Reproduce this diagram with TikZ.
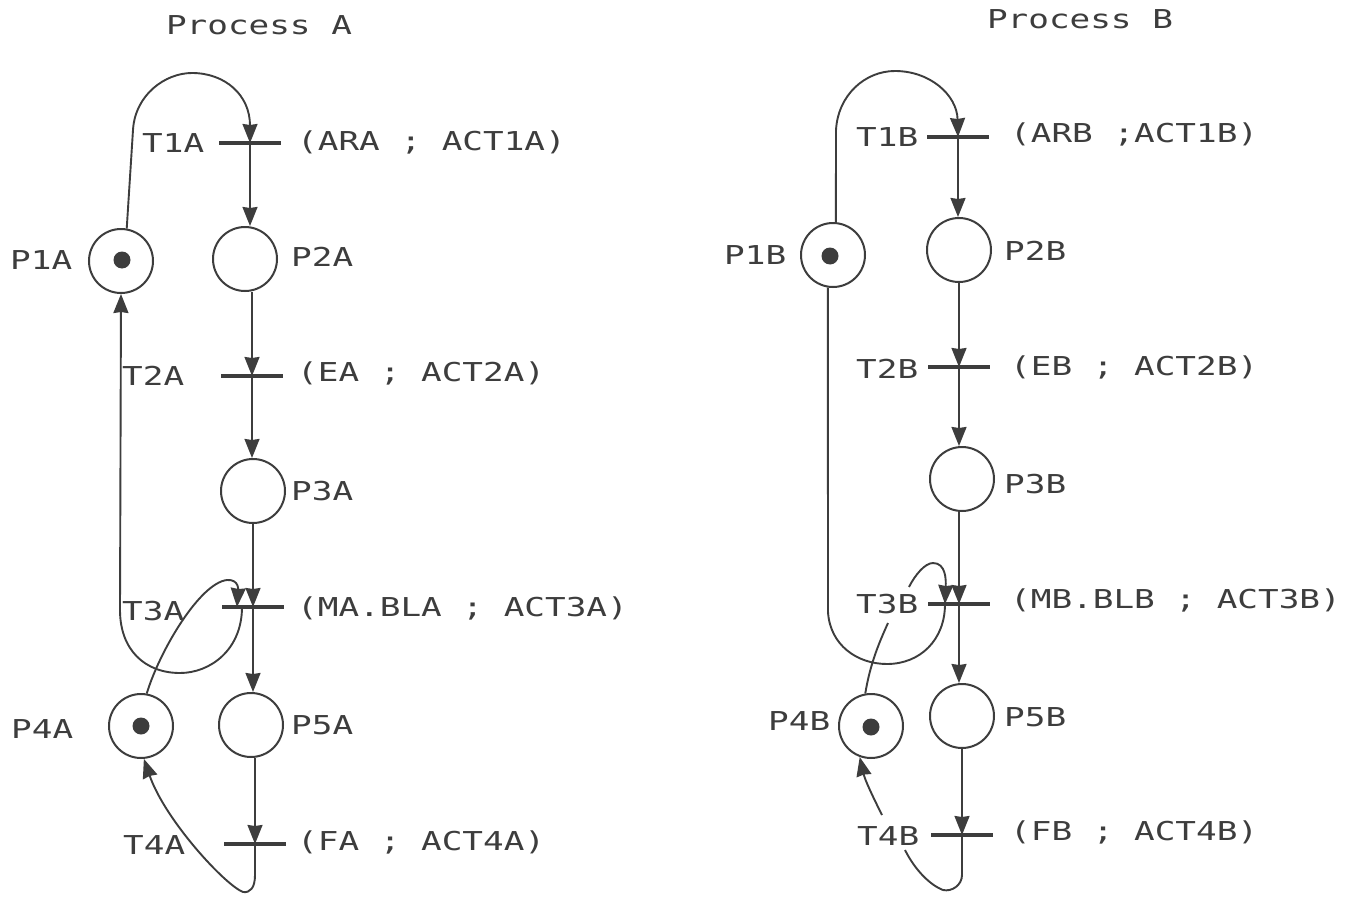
\documentclass[tikz,border=0pt]{standalone}
\usepackage{fontspec}
\newfontfamily\plotfont[FakeStretch=1.32]{DejaVu Sans Mono}
\usetikzlibrary{arrows.meta}
\definecolor{ink}{gray}{0.24}
\tikzset{x=1pt,y=-1pt,
 place/.style={circle,draw=ink,line width=2pt,minimum size=64pt,inner sep=0pt},
 trans/.style={inner sep=0pt,minimum width=62pt,minimum height=4pt,fill=ink},
 lbl/.style={text=ink,font=\plotfont\fontsize{26}{28}\selectfont,inner sep=0pt,anchor=west},
 head/.style={text=ink,font=\plotfont\fontsize{26}{28}\selectfont,inner sep=0pt},
 line/.style={draw=ink,line width=1.9pt},
 arc/.style={line,-{Stealth[length=19pt,width=15pt,inset=1pt]}},
 token/.style={circle,fill=ink,minimum size=17pt,inner sep=0pt}}
\begin{document}
\begin{tikzpicture}
\useasboundingbox (0,0) rectangle (1350,899);
\fill[white] (0,0) rectangle (1350,899);
\node[head] (ha) at (259,25) {Process A};
\node[head] (hb) at (1080,19) {Process B};
% Process A
\node[place] (P1A) at (121,261) {}; \node[token] (k1a) at (122,260) {};
\node[place] (P2A) at (245,259) {};
\node[place] (P3A) at (253,491) {};
\node[place] (P4A) at (141,726) {}; \node[token] (k4a) at (141,726) {};
\node[place] (P5A) at (251,725) {};
\node[trans] (T1A) at (250,143) {};
\node[trans] (T2A) at (252,376) {};
\node[trans] (T3A) at (253,607) {};
\node[trans] (T4A) at (255,844) {};
\draw[arc] (P1A.80) -- (133,130) .. controls (135,95) and (165,73) .. (192,73) .. controls (225,73) and (250,95) .. (T1A.center);
\draw[arc] (T1A.center) -- (T1A |- P2A.north);
\draw[arc] (T2A |- P2A.south) -- (T2A.center);
\draw[arc] (T2A.center) -- (T2A |- P3A.north);
\draw[arc] (P3A.south) -- (T3A.center);
\draw[arc] (T3A.center) -- (T3A |- P5A.north);
\draw[arc] (T4A |- P5A.south) -- (T4A.center);
\draw[arc] ([xshift=-11pt]T3A.center) .. controls (242,650) and (210,673) .. (180,673) .. controls (145,673) and (120,650) .. (120,610) -- (P1A.south);
\draw[arc] (P4A.80) .. controls (160,650) and (200,583) .. (227,580) .. controls (240,579) and (238,592) .. ([xshift=-16pt]T3A.center);
\draw[arc] (T4A.center) -- (255,875) .. controls (255,888) and (250,893) .. (243,892) .. controls (225,885) and (165,820) .. (P4A.-85);
\node[lbl] (lt1a) at (142,143) {T1A};
\node[lbl] (lt2a) at (122,376) {T2A};
\node[lbl] (lt3a) at (122,611) {T3A};
\node[lbl] (lt4a) at (123,845) {T4A};
\node[lbl] (lp1a) at (10,260) {P1A};
\node[lbl] (lp2a) at (291,257) {P2A};
\node[lbl] (lp3a) at (291,491) {P3A};
\node[lbl] (lp4a) at (11,729) {P4A};
\node[lbl] (lp5a) at (291,725) {P5A};
\node[lbl] (a1) at (297,142) {(ARA ; ACT1A)};
\node[lbl] (a2) at (297,373) {(EA ; ACT2A)};
\node[lbl] (a3) at (297,608) {(MA.BLA ; ACT3A)};
\node[lbl] (a4) at (297,842) {(FA ; ACT4A)};
% Process B
\node[place] (P1B) at (833,255) {}; \node[token] (k1b) at (830,256) {};
\node[place] (P2B) at (959,250) {};
\node[place] (P3B) at (962,479) {};
\node[place] (P4B) at (871,726) {}; \node[token] (k4b) at (871,727) {};
\node[place] (P5B) at (962,716) {};
\node[trans] (T1B) at (958,137) {};
\node[trans] (T2B) at (959,367) {};
\node[trans] (T3B) at (959,604) {};
\node[trans] (T4B) at (962,835) {};
\coordinate (g1) at (888,623);
\coordinate (g2) at (909,587);
\coordinate (g3) at (882,815);
\coordinate (g4) at (905,850);
\draw[arc] (P1B.85) -- (836,130) .. controls (838,95) and (865,71) .. (895,71) .. controls (930,71) and (957,95) .. (T1B.center);
\draw[arc] (T1B.center) -- (T1B |- P2B.north);
\draw[arc] (P2B.south) -- (T2B.center);
\draw[arc] (T2B.center) -- (T2B |- P3B.north);
\draw[arc] (T3B |- P3B.south) -- (T3B.center);
\draw[arc] (T3B.center) -- (T3B |- P5B.north);
\draw[arc] (P5B.south) -- (T4B.center);
\draw[line] (P1B.-99) -- (828,612) .. controls (830,645) and (857,664) .. (887,664) .. controls (920,664) and (945,640) .. ([xshift=-14pt]T3B.center);
\draw[line] (P4B.100) .. controls (870,665) and (878,645) .. (g1);
\draw[arc] (g2) .. controls (915,575) and (925,563) .. (933,563) .. controls (946,563) and (946,580) .. ([xshift=-14pt]T3B.center);
\draw[arc] (g3) .. controls (872,795) and (865,780) .. (P4B.-110);
\draw[line] (T4B.center) -- (962,875) .. controls (962,885) and (952,892) .. (943,890) .. controls (930,885) and (915,870) .. (g4);
\node[lbl] (lt1b) at (856,137) {T1B};
\node[lbl] (lt2b) at (856,369) {T2B};
\node[lbl] (lt3b) at (856,604) {T3B};
\node[lbl] (lt4b) at (857,836) {T4B};
\node[lbl] (lp1b) at (724,255) {P1B};
\node[lbl] (lp2b) at (1004,251) {P2B};
\node[lbl] (lp3b) at (1004,484) {P3B};
\node[lbl] (lp4b) at (768,721) {P4B};
\node[lbl] (lp5b) at (1004,717) {P5B};
\node[lbl] (b1) at (1010,134) {(ARB ;ACT1B)};
\node[lbl] (b2) at (1010,367) {(EB ; ACT2B)};
\node[lbl] (b3) at (1010,600) {(MB.BLB ; ACT3B)};
\node[lbl] (b4) at (1010,832) {(FB ; ACT4B)};
\end{tikzpicture}
\end{document}
